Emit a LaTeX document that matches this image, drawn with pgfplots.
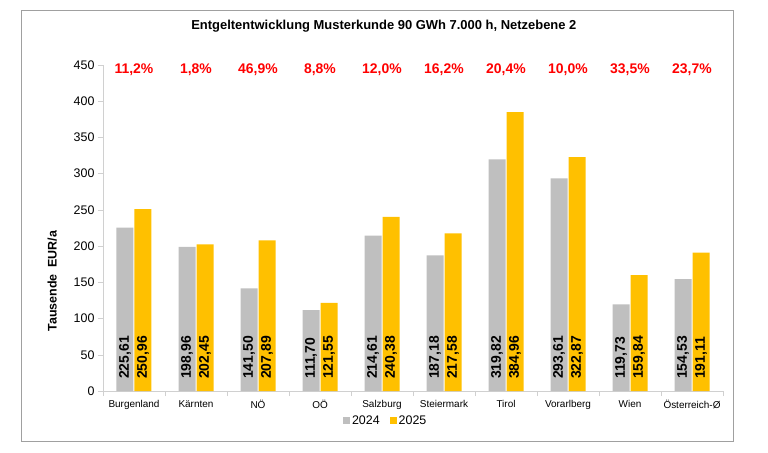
\documentclass[border=0pt]{standalone}
\usepackage{pgfplots}
\usepackage{pgfplotstable}
\pgfplotsset{compat=1.18}
\usepackage{fontspec}
\setmainfont{Liberation Sans}
\definecolor{cgray}{HTML}{BFBFBF}
\definecolor{cyell}{HTML}{FFC000}
\definecolor{axgray}{HTML}{D0D0D0}
\definecolor{frame}{HTML}{A0A0A0}
\pgfplotstableread{
x a b z p t
0 225.61 250.96 0 11.2 443
1 198.96 202.45 0 1.8 443
2 141.50 207.89 0 46.9 443
3 111.70 121.55 0 8.8 443
4 214.61 240.38 0 12.0 443
5 187.18 217.58 0 16.2 443
6 319.82 384.96 0 20.4 443
7 293.61 322.87 0 10.0 443
8 119.73 159.84 0 33.5 443
9 154.53 191.11 0 23.7 443
}\data
\begin{document}
\begin{tikzpicture}
\path[use as bounding box] (-103bp,-62bp) rectangle (665bp,391bp);
\draw[frame, line width=0.8bp] (-82bp,-50bp) rectangle (630bp,381bp);
\begin{axis}[
  at={(0,0)}, anchor=south west,
  width=620bp, height=326bp, scale only axis,
  ybar, bar width=17bp,
  xmin=-0.5, xmax=9.5, ymin=0, ymax=450,
  axis x line*=bottom, axis y line*=left,
  axis line style={axgray, -},
  xtick={-0.5,0.5,...,9.5},
  x tick label as interval=true,
  xticklabels={Burgenland,Kärnten,NÖ,OÖ,Salzburg,Steiermark,Tirol,Vorarlberg,Wien,Österreich-Ø},
  x tick label style={font=\fontsize{10}{12}\selectfont, yshift=-1bp},
  ytick={0,50,...,450},
  y tick label style={font=\fontsize{12.5}{14}\selectfont},
  tick style={axgray, thin},
  major tick length=5bp,
  tick align=outside,
  /pgf/number format/assume math mode=true,
  ylabel={Tausende\ \ EUR/a},
  ylabel style={font=\bfseries\fontsize{12.5}{14}\selectfont, at={(axis description cs:-0.082,0.337)}, anchor=center},
  title={Entgeltentwicklung Musterkunde 90 GWh 7.000 h, Netzebene 2},
  title style={font=\bfseries\fontsize{13}{15}\selectfont, at={(axis description cs:0.453,1.101)}, anchor=center, yshift=0pt},
  legend style={at={(axis description cs:0.456,-0.092)}, anchor=center, draw=none, fill=none,
    font=\fontsize{12.5}{14}\selectfont, legend columns=2,
    /tikz/every even column/.append style={column sep=8bp}},
  legend image code/.code={\fill[#1] (0bp,-3.5bp) rectangle (7bp,3.5bp);},
]
\addplot[fill=cgray, draw=none, bar shift=-9bp] table[x=x,y=a] {\data};
\addlegendentry{2024}
\addplot[fill=cyell, draw=none, bar shift=9bp] table[x=x,y=b] {\data};
\addlegendentry{2025}
\addplot[draw=none, fill=none, bar shift=-9bp, forget plot, point meta=explicit,
  nodes near coords={\pgfmathprintnumber[fixed,fixed zerofill,precision=2,use comma,1000 sep={}]{\pgfplotspointmeta}},
  every node near coord/.append style={rotate=90, anchor=west, inner xsep=12bp, inner ysep=0bp, text=black, font=\bfseries\fontsize{14}{14}\selectfont}]
  table[x=x,y=z,meta=a] {\data};
\addplot[draw=none, fill=none, bar shift=9bp, forget plot, point meta=explicit,
  nodes near coords={\pgfmathprintnumber[fixed,fixed zerofill,precision=2,use comma,1000 sep={}]{\pgfplotspointmeta}},
  every node near coord/.append style={rotate=90, anchor=west, inner xsep=12bp, inner ysep=0bp, text=black, font=\bfseries\fontsize{14}{14}\selectfont}]
  table[x=x,y=z,meta=b] {\data};
\addplot[draw=none, fill=none, bar shift=0bp, forget plot, point meta=explicit,
  nodes near coords={\pgfmathprintnumber[fixed,fixed zerofill,precision=1,use comma]{\pgfplotspointmeta}\%},
  every node near coord/.append style={anchor=center, text=red, font=\bfseries\fontsize{14}{16}\selectfont}]
  table[x=x,y=t,meta=p] {\data};
\end{axis}
\end{tikzpicture}
\end{document}
